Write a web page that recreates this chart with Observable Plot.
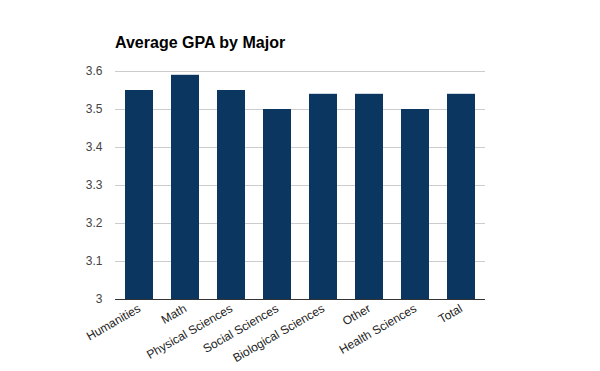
<!DOCTYPE html>
<html>
<head>
<meta charset="utf-8">
<script src="https://cdn.jsdelivr.net/npm/d3@7"></script>
<script src="https://cdn.jsdelivr.net/npm/@observablehq/plot@0.6"></script>
<style>
  html, body { margin: 0; padding: 0; background: #fff; }
  #wrap { position: relative; width: 600px; height: 371px; }
  #title { position: absolute; left: 115px; top: 34px; font: bold 16px "Liberation Sans", Arial, sans-serif; color: #000; }
</style>
</head>
<body>
<div id="wrap"><div id="title">Average GPA by Major</div></div>
<script>
const majors = ["Humanities", "Math", "Physical Sciences", "Social Sciences", "Biological Sciences", "Other", "Health Sciences", "Total"];
const gpas = [3.55, 3.59, 3.55, 3.50, 3.54, 3.54, 3.50, 3.54];
const yTicks = [3, 3.1, 3.2, 3.3, 3.4, 3.5, 3.6];

const data = majors.map((m, i) => ({major: m, gpa: gpas[i]}));

const chart = Plot.plot({
  width: 600,
  height: 371,
  marginLeft: 115,
  marginRight: 115,
  marginTop: 71,
  marginBottom: 72,
  style: {fontFamily: "'Liberation Sans', Arial, sans-serif", fontSize: "11px", background: "#fff"},
  x: {domain: majors, paddingInner: 0.395, paddingOuter: 0.2, label: null},
  y: {domain: [3, 3.6], label: null},
  marks: [
    Plot.gridY(yTicks, {stroke: "#cccccc", strokeOpacity: 1, strokeWidth: 1}),
    Plot.barY(data, {x: "major", y1: 3, y2: "gpa", fill: "#0b3660"}),
    Plot.ruleY([3], {stroke: "#333333", strokeWidth: 1.2}),
    Plot.axisY(yTicks, {tickSize: 0, tickPadding: 13, tickFormat: d => d3.format("~g")(d), fill: "#444", fontSize: 12, label: null}),
    Plot.axisX({tickSize: 0, tickRotate: -30, tickPadding: 8, fill: "#222", fontSize: 12, label: null})
  ]
});
document.getElementById("wrap").appendChild(chart);
</script>
</body>
</html>
